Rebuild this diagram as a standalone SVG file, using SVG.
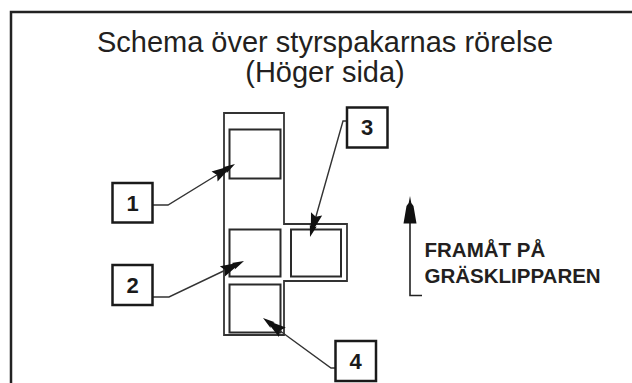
<svg xmlns="http://www.w3.org/2000/svg" xmlns:xlink="http://www.w3.org/1999/xlink" width="632" height="383" viewBox="0 0 632 383">
<style>
.frame{fill:none;stroke:#222;stroke-width:2.5}
.shape{fill:none;stroke:#333;stroke-width:1.8}
.pos{fill:none;stroke:#2a2a2a;stroke-width:2}
.lbl{fill:#fff;stroke:#1a1a1a;stroke-width:2.5}
.num{font-family:"Liberation Sans",Arial,sans-serif;font-weight:bold;font-size:22px;fill:#1a1a1a;text-anchor:middle}
.title{font-family:"Liberation Sans",Arial,sans-serif;font-size:29px;fill:#231f20;text-anchor:middle}
.note{font-family:"Liberation Sans",Arial,sans-serif;font-weight:bold;font-size:20.5px;fill:#231f20}
.lead{fill:none;stroke:#333;stroke-width:1.4}
.head{fill:#111}
</style>
<defs>
<path id="ah" class="head" d="M0,0 L-12,-3.6 L-11,-2.2 L-24,-5.8 L-21,0 L-24,5.8 L-11,2.2 L-12,3.6 Z"/>
</defs>
<rect class="frame" x="11" y="12" width="640" height="390"/>
<text class="title" x="325" y="52">Schema över styrspakarnas rörelse</text>
<text class="title" x="325" y="82">(Höger sida)</text>
<g id="lever-pattern">
<path class="shape" d="M224,113 H284 V224 H347 V281 H284 V335 H224 Z"/>
<rect class="pos" x="229.5" y="129.5" width="51" height="49"/>
<rect class="pos" x="229.5" y="229.5" width="51" height="47"/>
<rect class="pos" x="291" y="229.5" width="50" height="47"/>
<rect class="pos" x="229.5" y="284.5" width="51" height="48"/>
</g>
<g id="connectors">
<path class="lead" d="M152,205 H168 L225,170"/>
<use xlink:href="#ah" href="#ah" transform="translate(235,164) rotate(-31.5)"/>
<path class="lead" d="M152,297 H169 L234,266"/>
<use xlink:href="#ah" href="#ah" transform="translate(244,261) rotate(-25.6)"/>
<path class="lead" d="M347,121 H343 L313,227"/>
<use xlink:href="#ah" href="#ah" transform="translate(310,237) rotate(105.9)"/>
<path class="lead" d="M335,368 H331 L272,325"/>
<use xlink:href="#ah" href="#ah" transform="translate(263,318) rotate(-143.7)"/>
</g>
<g id="label-1">
<rect class="lbl" x="112.5" y="183" width="40" height="39.5"/>
<text class="num" x="132.5" y="210.5">1</text>
</g>
<g id="label-2">
<rect class="lbl" x="112.5" y="265" width="40" height="40"/>
<text class="num" x="132.5" y="292.5">2</text>
</g>
<g id="label-3">
<rect class="lbl" x="347" y="107.5" width="40.5" height="40"/>
<text class="num" x="367.2" y="135">3</text>
</g>
<g id="label-4">
<rect class="lbl" x="335.5" y="341" width="40.5" height="40"/>
<text class="num" x="355.7" y="368.5">4</text>
</g>
<g id="forward">
<path d="M410,223 V295.5 H422" fill="none" stroke="#222" stroke-width="1.6"/>
<path d="M410,196 L411.3,203 L413.5,206 L416.5,223.5 L403.5,223.5 L406.5,206 L408.7,203 Z" fill="#111"/>
<text class="note" x="424.5" y="257">FRAMÅT PÅ</text>
<text class="note" x="424.5" y="283">GRÄSKLIPPAREN</text>
</g>
</svg>
